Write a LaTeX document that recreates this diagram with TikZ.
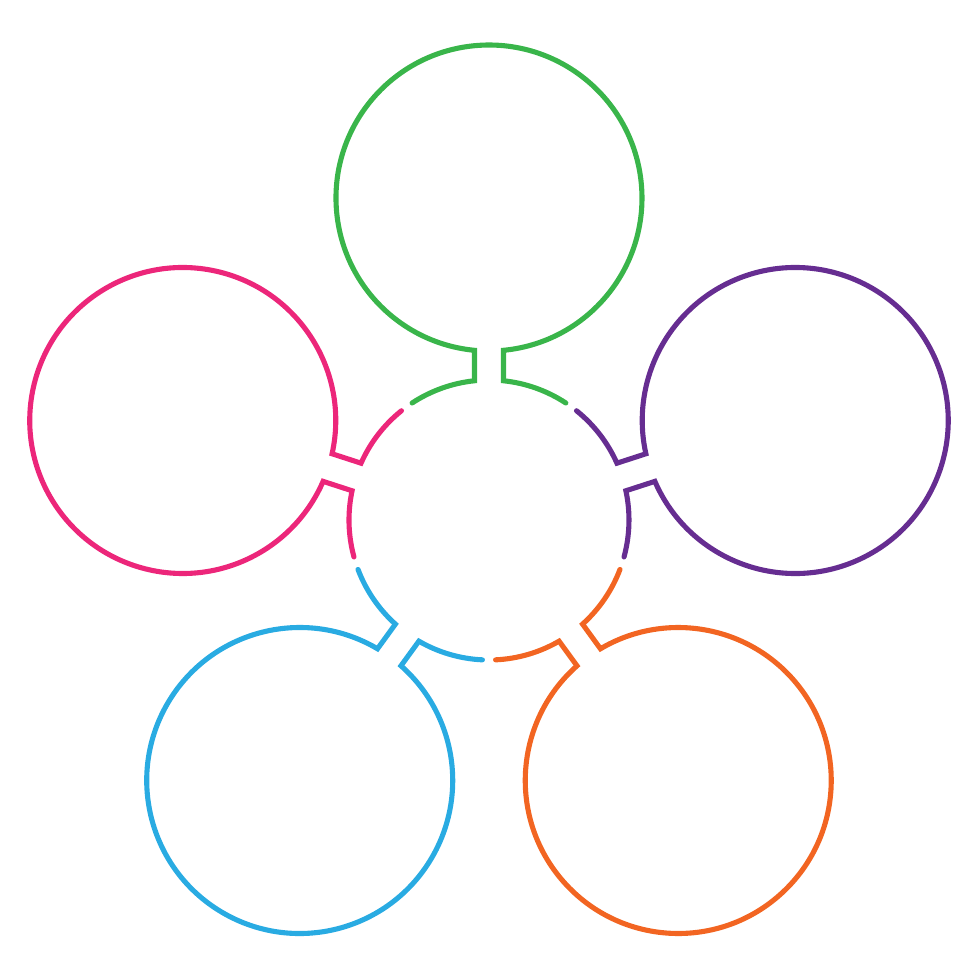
\documentclass[tikz,border=0pt]{standalone}
\usepackage{tikz}
\usetikzlibrary{calc}

\definecolor{leafgreen}{RGB}{57,181,74}
\definecolor{rosepink}{RGB}{236,38,122}
\definecolor{skyblue}{RGB}{41,171,226}
\definecolor{sunorange}{RGB}{242,101,34}
\definecolor{grapepurple}{RGB}{102,45,145}

\tikzset{petal/.style={line width=1.45pt, line cap=round, line join=miter}}

\begin{document}
\begin{tikzpicture}
    \useasboundingbox (-4.89,-4.60) rectangle (4.91,5.20);
    \coordinate (hub) at (0,0);

    % Petals: outer circle, neck and two halves of the hub ring
    \foreach \ang/\col in {90/leafgreen, 162/rosepink, 234/skyblue, 306/sunorange, 18/grapepurple} {
        \coordinate (bud) at ($(hub)+(\ang:3.22)$);
        \draw [petal, \col] ($(hub)+(\ang-33.3:1.40)$)
            arc [start angle=\ang-33.3, end angle=\ang-5.95, radius=1.40]
            -- ($(bud)+(\ang+185.44:1.53)$)
            arc [start angle=\ang+185.44, end angle=\ang+534.56, radius=1.53]
            -- ($(hub)+(\ang+5.95:1.40)$)
            arc [start angle=\ang+5.95, end angle=\ang+33.3, radius=1.40];
    }
\end{tikzpicture}
\end{document}
